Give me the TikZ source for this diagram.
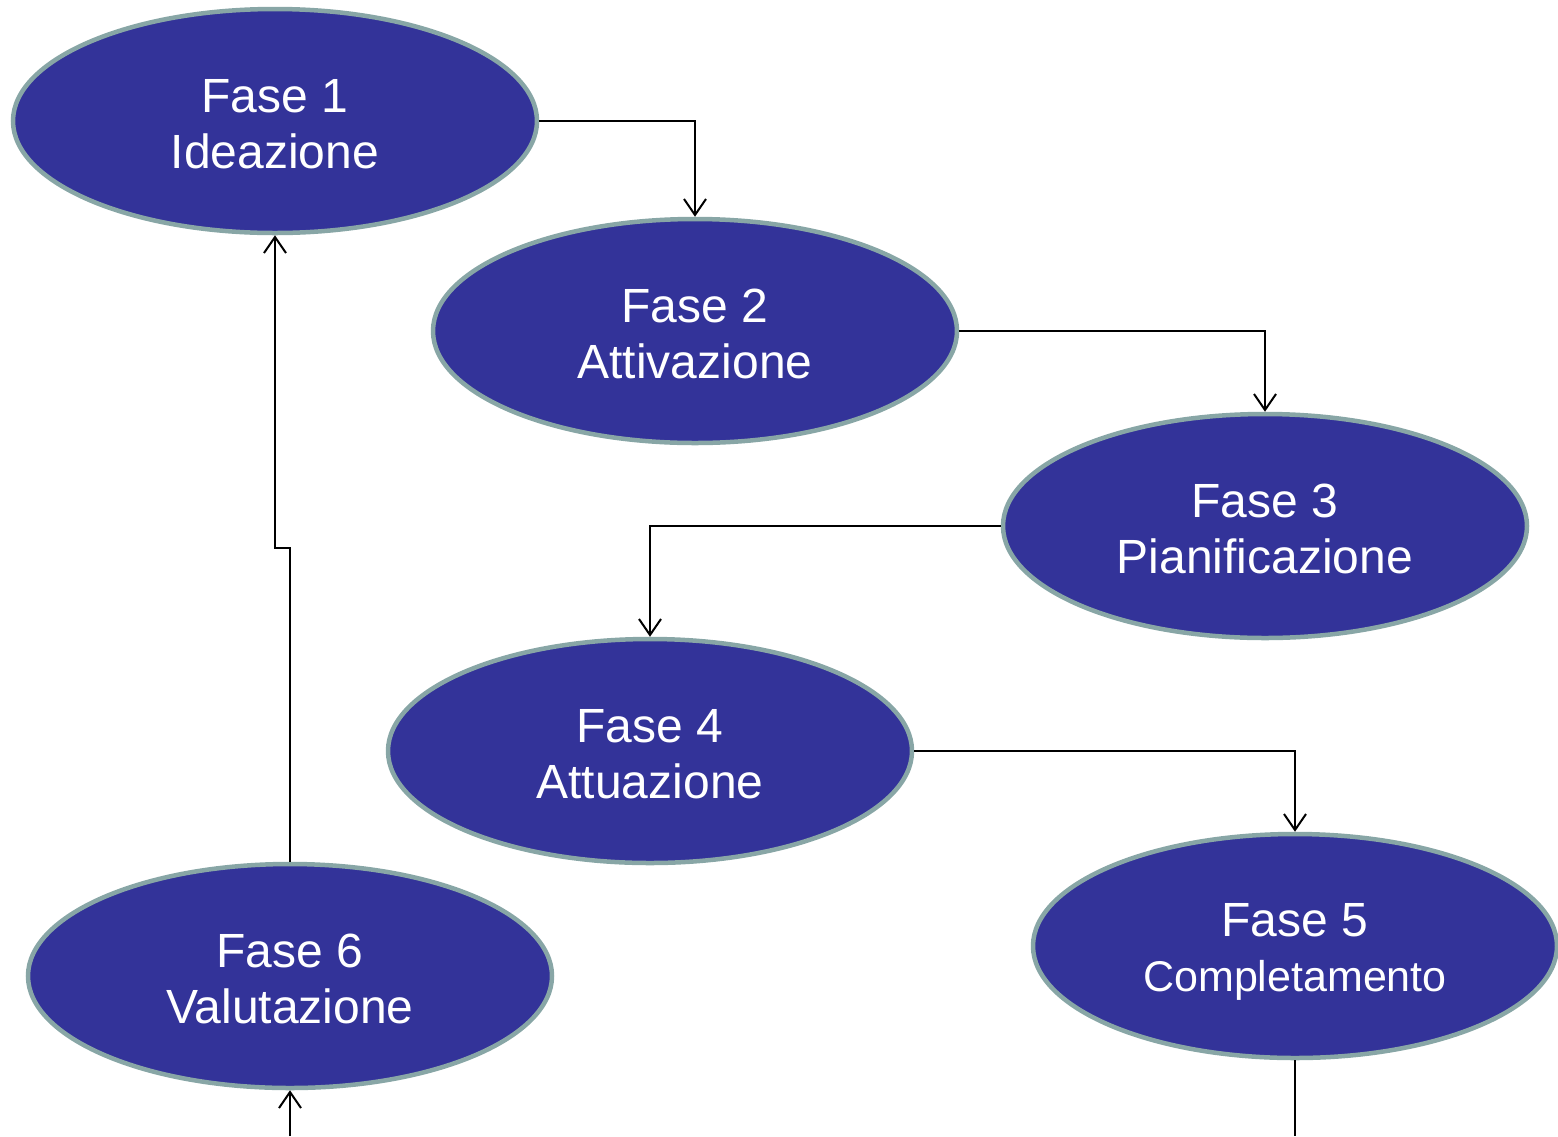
\documentclass[tikz,border=0pt]{standalone}
\usepackage{fontspec}
\setmainfont{Liberation Sans}
\usetikzlibrary{shapes.geometric,arrows.meta}
\definecolor{phasefill}{HTML}{333399}
\definecolor{phaseedge}{HTML}{88A6A6}
\tikzset{
  phase/.style={ellipse, fill=phasefill, draw=phaseedge, line width=4.5pt,
    minimum width=524pt, minimum height=224pt, inner sep=0pt},
  phasetext/.style={text=white, align=center, inner sep=0pt,
    font=\fontsize{48}{56}\selectfont},
  link/.style={draw=black, line width=2pt,
    -{Straight Barb[length=16pt,width=22pt]}},
  plain/.style={draw=black, line width=2pt}
}
\begin{document}
\begin{tikzpicture}[x=1pt,y=-1pt]
  \useasboundingbox (0,0) rectangle (1558,1136);
  % phase ellipses
  \node[phase] (f1) at (275,121) {};
  \node[phase] (f2) at (695,331) {};
  \node[phase] (f3) at (1265,526) {};
  \node[phase] (f4) at (650,751) {};
  \node[phase] (f5) at (1295,946) {};
  \node[phase] (f6) at (290,976) {};
  % phase captions
  \node[phasetext] (t1) at (275,124) {Fase 1\\Ideazione};
  \node[phasetext] (t2) at (695,334) {Fase 2\\Attivazione};
  \node[phasetext] (t3) at (1265,529) {Fase 3\\Pianificazione};
  \node[phasetext] (t4) at (650,754) {Fase 4\\Attuazione};
  \node[phasetext] (t5) at (1295,952) {Fase 5\\[-1pt]\fontsize{43}{48}\selectfont Completamento};
  \node[phasetext] (t6) at (290,979) {Fase 6\\Valutazione};

  \coordinate (out5) at (1295,1136);
  \coordinate (in6) at (290,1136);
  \coordinate (stepA) at (290,548);
  \coordinate (stepB) at (275,548);

  % flow between phases
  \draw[link] (f1.east) -| (f2.north);
  \draw[link] (f2.east) -| (f3.north);
  \draw[link] (f3.west) -| (f4.north);
  \draw[link] (f4.east) -| (f5.north);
  \draw[plain] (f5.south) -- (out5);
  \draw[link] (in6) -- (f6.south);
  \draw[link] (f6.north) -- (stepA) -- (stepB) -- (f1.south);
\end{tikzpicture}
\end{document}
